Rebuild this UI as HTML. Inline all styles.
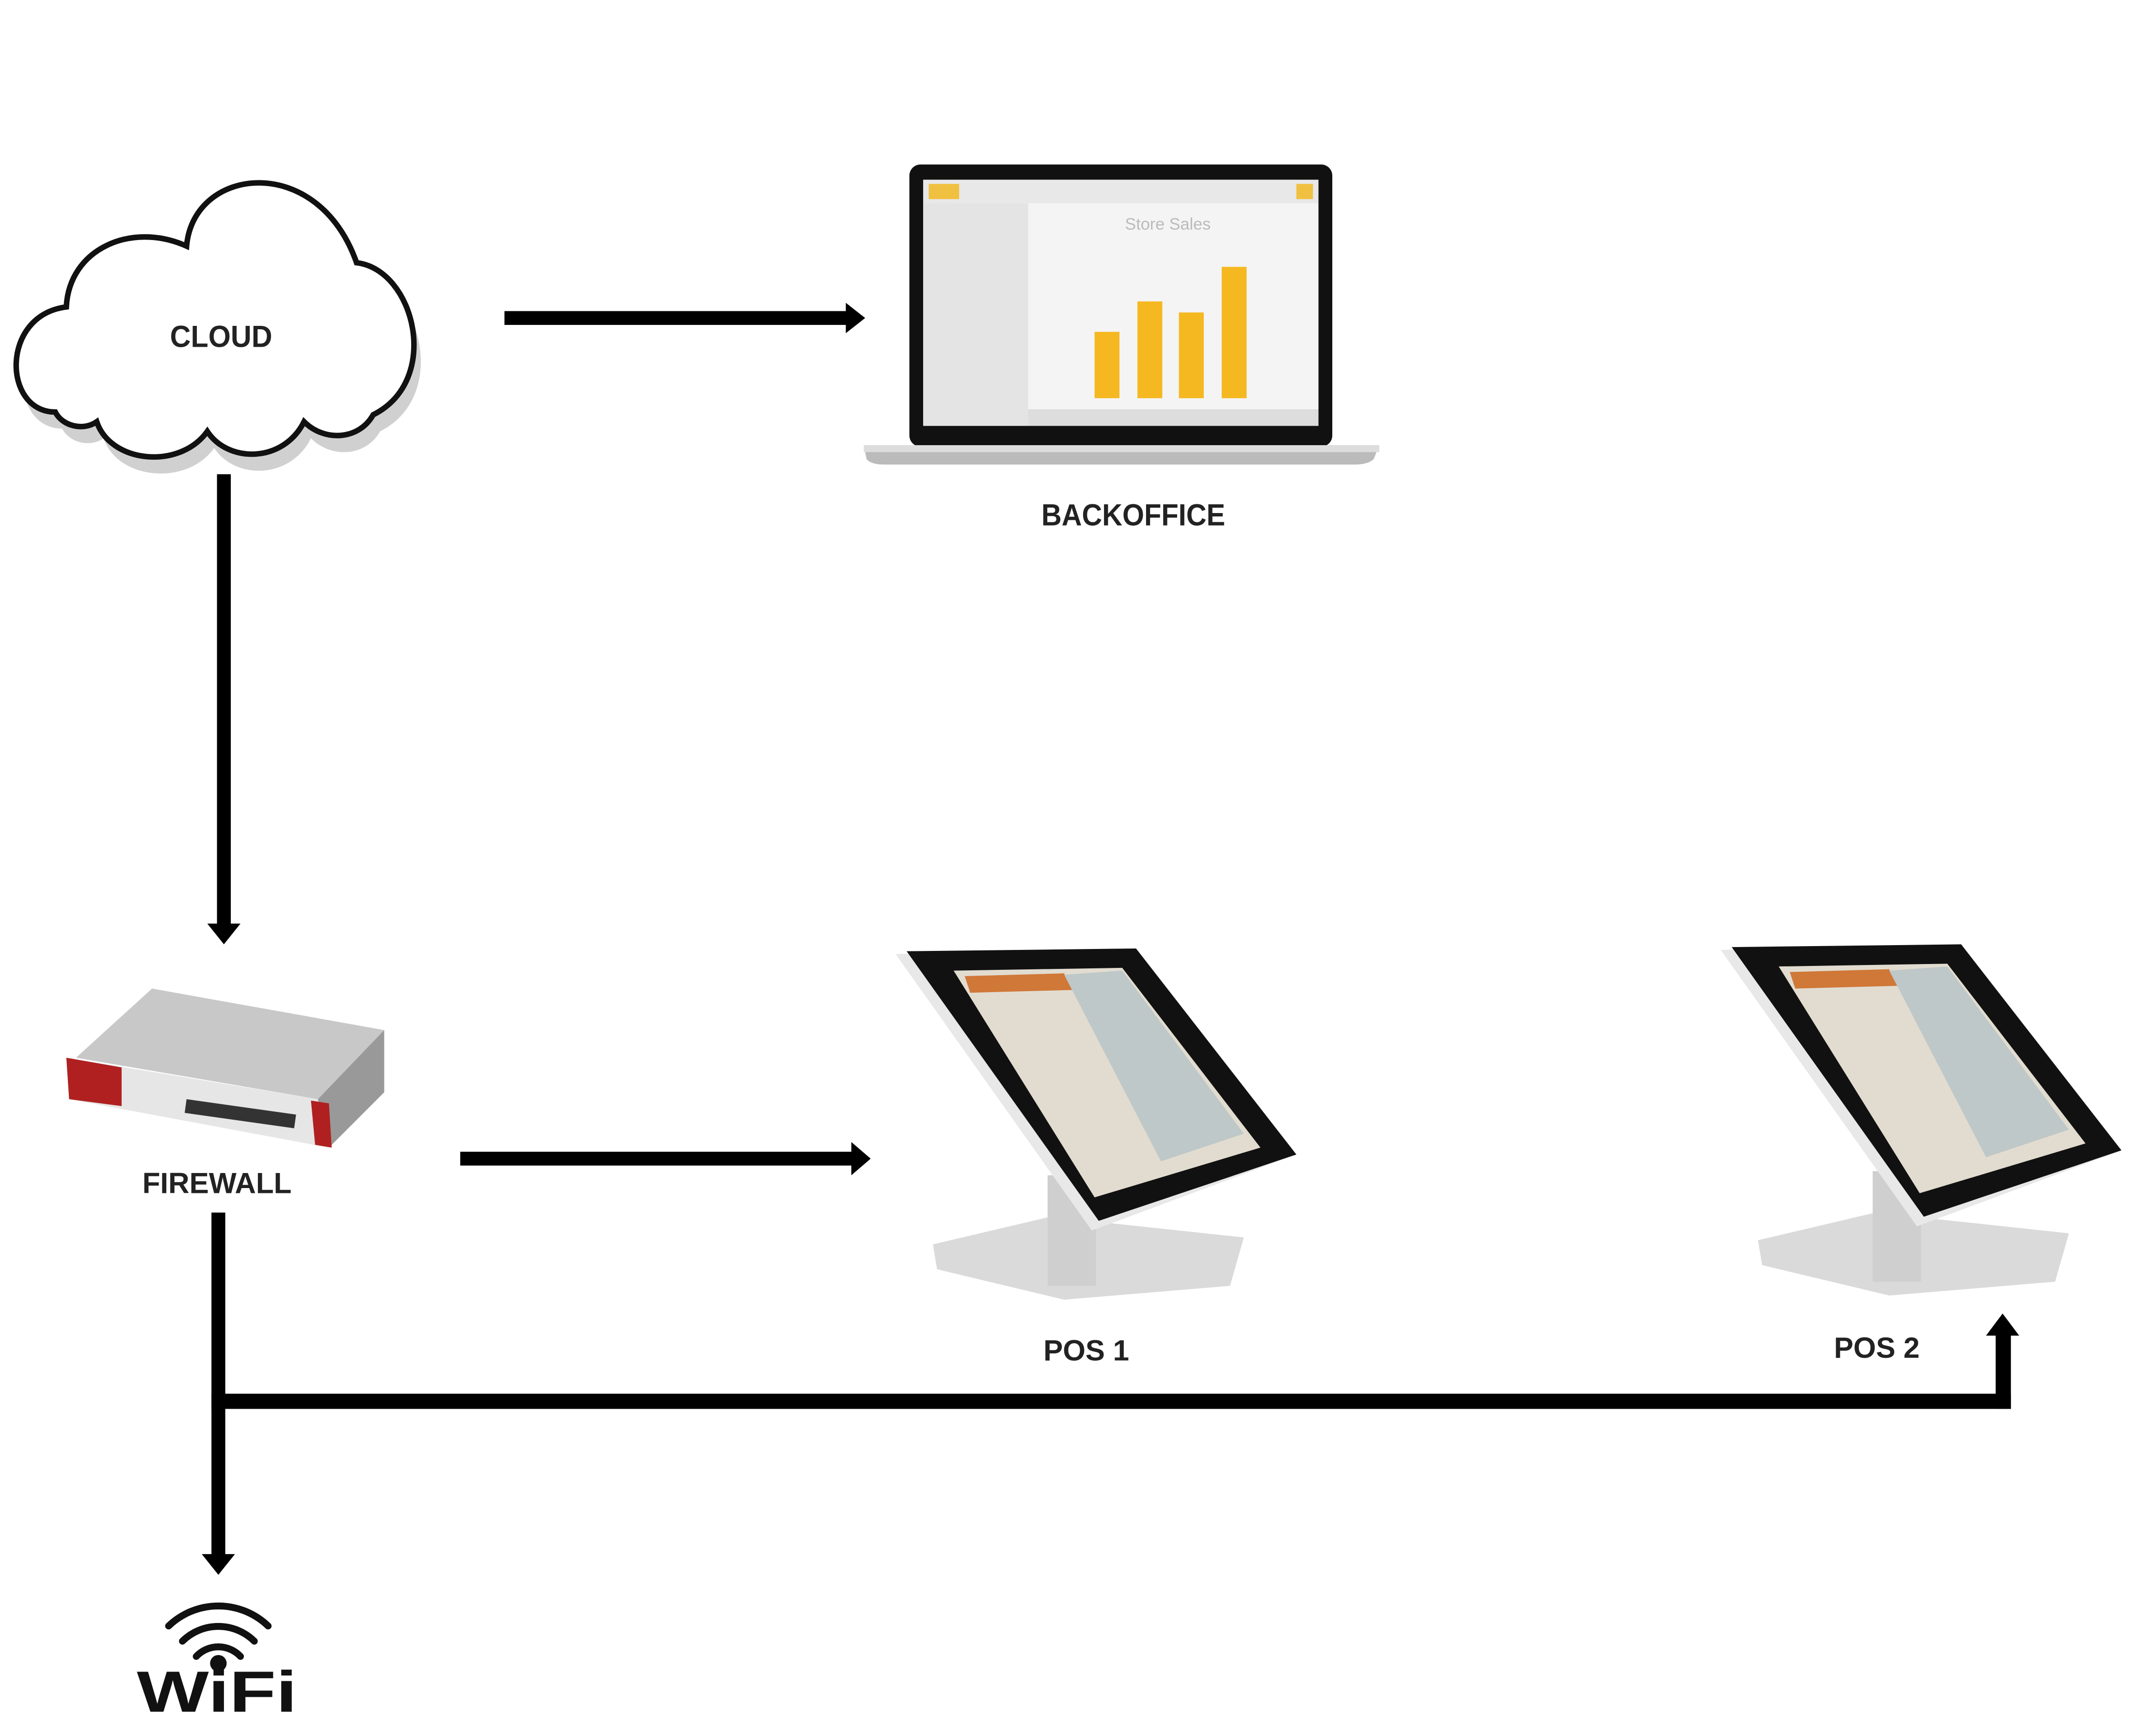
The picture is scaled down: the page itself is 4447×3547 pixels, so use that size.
<!DOCTYPE html>
<html><head><meta charset="utf-8"><style>html,body{margin:0;padding:0;background:#fff}svg{display:block}</style></head>
<body>
<svg width="4447" height="3547" viewBox="0 0 1560 1244" preserveAspectRatio="none" xmlns="http://www.w3.org/2000/svg" font-family="Liberation Sans, sans-serif">
<rect width="1560" height="1244" fill="#fff"/>
<!-- cloud -->
<path d="M40,298 C2,298 0,228 48,222 C50,180 95,160 135,178 C140,120 230,110 258,190 C300,195 320,275 270,300 C260,318 235,320 220,305 C205,335 165,335 150,312 C130,340 80,335 70,305 C60,312 45,308 40,298 Z" fill="#d0d0d0" transform="translate(5,12)"/>
<path d="M40,298 C2,298 0,228 48,222 C50,180 95,160 135,178 C140,120 230,110 258,190 C300,195 320,275 270,300 C260,318 235,320 220,305 C205,335 165,335 150,312 C130,340 80,335 70,305 C60,312 45,308 40,298 Z" fill="#fff" stroke="#111" stroke-width="4"/>
<text x="160" y="251" font-size="22" font-weight="bold" text-anchor="middle" fill="#222" textLength="74" lengthAdjust="spacingAndGlyphs">CLOUD</text>
<!-- arrow cloud -> laptop -->
<rect x="365" y="225" width="250" height="10" fill="#000"/>
<polygon points="612,219 626,230 612,241" fill="#000"/>
<!-- laptop -->
<rect x="658" y="119" width="306" height="204" rx="8" fill="#111"/>
<rect x="668" y="130" width="286" height="178" fill="#f4f4f4"/>
<rect x="668" y="130" width="286" height="17" fill="#e8e8e8"/>
<rect x="672" y="133" width="22" height="11" fill="#f0c040"/>
<rect x="938" y="133" width="12" height="11" fill="#f0c040"/>
<rect x="668" y="147" width="76" height="161" fill="#e4e4e4"/>
<rect x="744" y="296" width="210" height="12" fill="#ddd"/>
<text x="845" y="166" font-size="12" fill="#bbb" text-anchor="middle">Store Sales</text>
<rect x="792" y="240" width="18" height="48" fill="#f5b820"/>
<rect x="823" y="218" width="18" height="70" fill="#f5b820"/>
<rect x="853" y="226" width="18" height="62" fill="#f5b820"/>
<rect x="884" y="193" width="18" height="95" fill="#f5b820"/>
<path d="M625,322 L998,322 L994,332 Q990,336 980,336 L640,336 Q630,336 627,332 Z" fill="#bbb"/>
<rect x="625" y="322" width="373" height="5" fill="#ddd"/>
<text x="820" y="380" font-size="22" font-weight="bold" text-anchor="middle" fill="#222" textLength="133" lengthAdjust="spacingAndGlyphs">BACKOFFICE</text>
<!-- cloud -> firewall -->
<rect x="157" y="343" width="10" height="328" fill="#000"/>
<polygon points="150,668 162,683 174,668" fill="#000"/>
<!-- firewall -->
<polygon points="55,765 110,715 278,745 230,795" fill="#c8c8c8"/>
<polygon points="230,795 278,745 278,790 238,830" fill="#999"/>
<polygon points="48,765 230,795 238,830 50,795" fill="#e6e6e6"/>
<polygon points="48,765 88,772 88,800 50,795" fill="#b02020"/>
<polygon points="225,796 238,798 240,830 228,828" fill="#b02020"/>
<rect x="135" y="795" width="80" height="10" fill="#333" transform="rotate(8 135 795)"/>
<text x="157" y="863" font-size="21" font-weight="bold" text-anchor="middle" fill="#222" textLength="108" lengthAdjust="spacingAndGlyphs">FIREWALL</text>
<!-- firewall -> POS1 -->
<rect x="333" y="833" width="285" height="10" fill="#000"/>
<polygon points="616,826 630,838 616,850" fill="#000"/>
<!-- POS terminals -->
<g id="pos">
<polygon points="675,900 760,880 900,895 890,930 770,940 678,918" fill="#dadada"/>
<rect x="758" y="850" width="35" height="80" fill="#cfcfcf"/>
<polygon points="648,690 822,686 938,835 790,890" fill="#e8e8e8"/>
<polygon points="656,688 822,686 938,835 795,883" fill="#111"/>
<polygon points="690,702 812,700 912,830 792,866" fill="#e2dcd0"/>
<polygon points="698,706 770,704 776,716 702,718" fill="#d07838"/>
<polygon points="770,705 812,702 900,820 840,840" fill="#bfc8c8"/>
</g>
<use href="#pos" transform="translate(597,-3)"/>
<text x="786" y="984" font-size="21" font-weight="bold" text-anchor="middle" fill="#222" textLength="62" lengthAdjust="spacingAndGlyphs">POS 1</text>
<text x="1358" y="982" font-size="21" font-weight="bold" text-anchor="middle" fill="#222" textLength="62" lengthAdjust="spacingAndGlyphs">POS 2</text>
<!-- firewall -> wifi & POS2 -->
<rect x="153" y="877" width="10" height="250" fill="#000"/>
<polygon points="146,1124 158,1139 170,1124" fill="#000"/>
<rect x="153" y="1008" width="1302" height="11" fill="#000"/>
<rect x="1444" y="962" width="11" height="57" fill="#000"/>
<polygon points="1437,966 1449,950 1461,966" fill="#000"/>
<!-- wifi -->
<g fill="none" stroke="#111" stroke-width="5" stroke-linecap="round">
<path d="M122,1176 A52,52 0 0 1 194,1176"/>
<path d="M132,1187 A37,37 0 0 1 184,1187"/>
<path d="M142,1198 A22,22 0 0 1 174,1198"/>
</g>
<circle cx="158" cy="1203" r="6" fill="#111"/>
<text x="157" y="1238" font-size="42" font-weight="bold" text-anchor="middle" fill="#111" textLength="116" lengthAdjust="spacingAndGlyphs">WiFi</text>
</svg>
</body></html>
